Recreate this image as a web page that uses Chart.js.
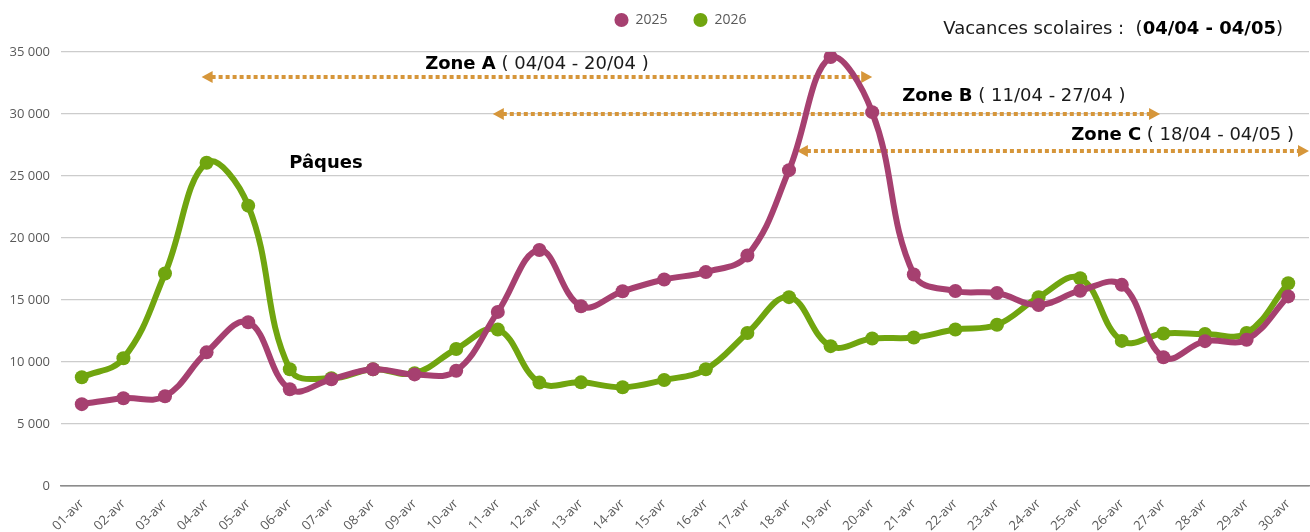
<!DOCTYPE html>
<html lang="fr">
<head>
<meta charset="utf-8">
<title>Ventes avril 2025 / 2026</title>
<script src="https://cdn.jsdelivr.net/npm/chart.js@4.4.1/dist/chart.umd.min.js"></script>
<style>
  html, body { margin: 0; padding: 0; background: #ffffff; overflow: hidden; }
  #cadre { position: relative; width: 1310px; height: 532px; }
</style>
</head>
<body>
<div id="cadre"><canvas id="graphique"></canvas></div>
<script>
const jours = ['01-avr', '02-avr', '03-avr', '04-avr', '05-avr', '06-avr', '07-avr', '08-avr', '09-avr', '10-avr',
               '11-avr', '12-avr', '13-avr', '14-avr', '15-avr', '16-avr', '17-avr', '18-avr', '19-avr', '20-avr',
               '21-avr', '22-avr', '23-avr', '24-avr', '25-avr', '26-avr', '27-avr', '28-avr', '29-avr', '30-avr'];

const ventes2025 = [6600, 7080, 7240, 10780, 13200, 7800, 8610, 9410, 9000, 9300,
                    14040, 19030, 14500, 15700, 16650, 17250, 18590, 25470, 34600, 30150,
                    17060, 15720, 15560, 14600, 15750, 16220, 10380, 11680, 11800, 15290];

const ventes2026 = [8770, 10300, 17140, 26070, 22610, 9410, 8690, 9410, 9100, 11050,
                    12620, 8340, 8360, 7960, 8550, 9410, 12340, 15230, 11280, 11900,
                    11970, 12620, 13000, 15230, 16760, 11700, 12300, 12260, 12340, 16350];

// annotations (zones de vacances), positions en index de jour / valeur
const zonesNoms = ['Zone A', 'Zone B', 'Zone C'];
const zonesDates = [' ( 04/04 - 20/04 )', ' ( 11/04 - 27/04 )', ' ( 18/04 - 04/05 )'];
const zonesDebut = [2.88, 9.88, 17.19];
const zonesFin = [19, 25.92, null];
const zonesNiveau = [33000, 30000, 27000];

const couleur2025 = '#a64070';
const couleur2026 = '#70a50f';
const couleurFleche = '#d6963a';
const police = '"Open Sans", "Noto Sans", sans-serif';
const policeTitre = '"DejaVu Sans", "Noto Sans", sans-serif';

function formatMilliers(v) {
    return String(v).replace(/\B(?=(\d{3})+(?!\d))/g, ' ');
}

// Dessin des flèches et textes
const annotations = {
    id: 'annotations',
    beforeDatasetsDraw(chart) {
        const ctx = chart.ctx;
        const x = chart.scales.x;
        const y = chart.scales.y;
        const area = chart.chartArea;
        const pas = x.getPixelForValue(1) - x.getPixelForValue(0);
        const x0 = x.getPixelForValue(0);

        ctx.save();
        zonesNoms.forEach((nom, i) => {
            const x1 = x0 + zonesDebut[i] * pas;
            const x2 = zonesFin[i] !== null ? x0 + zonesFin[i] * pas : area.right;
            const yy = Math.round(y.getPixelForValue(zonesNiveau[i]));

            ctx.strokeStyle = couleurFleche;
            ctx.fillStyle = couleurFleche;
            ctx.lineWidth = 4;
            ctx.setLineDash([4, 3]);
            ctx.beginPath();
            ctx.moveTo(x1 + 10, yy);
            ctx.lineTo(x2 - 10, yy);
            ctx.stroke();
            ctx.setLineDash([]);

            // pointes
            ctx.beginPath();
            ctx.moveTo(x1, yy);
            ctx.lineTo(x1 + 11, yy - 6);
            ctx.lineTo(x1 + 11, yy + 6);
            ctx.closePath();
            ctx.fill();
            ctx.beginPath();
            ctx.moveTo(x2, yy);
            ctx.lineTo(x2 - 11, yy - 6);
            ctx.lineTo(x2 - 11, yy + 6);
            ctx.closePath();
            ctx.fill();
        });
        ctx.restore();
    },
    afterDraw(chart) {
        const ctx = chart.ctx;
        const x = chart.scales.x;
        const y = chart.scales.y;
        const pas = x.getPixelForValue(1) - x.getPixelForValue(0);

        ctx.save();
        ctx.textBaseline = 'middle';

        // étiquettes des zones
        const etiquetteX = [10.94, 19.72, 29.14];
        const etiquetteAlign = ['center', 'left', 'right'];
        const etiquetteNiveau = [34000, 31450, 28300];
        zonesNoms.forEach((nom, i) => {
            ctx.font = 'bold 18px ' + policeTitre;
            const w1 = ctx.measureText(nom).width;
            ctx.font = '18px ' + policeTitre;
            const w2 = ctx.measureText(zonesDates[i]).width;
            const px = x.getPixelForValue(0) + etiquetteX[i] * pas;
            let gauche = px;
            if (etiquetteAlign[i] === 'center') gauche = px - (w1 + w2) / 2;
            if (etiquetteAlign[i] === 'right') gauche = px - (w1 + w2);
            const py = y.getPixelForValue(etiquetteNiveau[i]);
            ctx.textAlign = 'left';
            ctx.fillStyle = '#000000';
            ctx.font = 'bold 18px ' + policeTitre;
            ctx.fillText(nom, gauche, py);
            ctx.fillStyle = '#1a1a1a';
            ctx.font = '18px ' + policeTitre;
            ctx.fillText(zonesDates[i], gauche + w1, py);
        });

        // Pâques
        ctx.fillStyle = '#000000';
        ctx.font = 'bold 18px ' + policeTitre;
        ctx.textAlign = 'center';
        ctx.fillText('Pâques', x.getPixelForValue(0) + 5.87 * pas, y.getPixelForValue(26000));

        // Vacances scolaires
        const t1 = 'Vacances scolaires :  (';
        const t2 = '04/04 - 04/05';
        const t3 = ')';
        ctx.font = 'bold 18px ' + policeTitre;
        const wb = ctx.measureText(t2).width;
        ctx.font = '18px ' + policeTitre;
        const wa = ctx.measureText(t1).width;
        const wc = ctx.measureText(t3).width;
        const gx = 1283 - (wa + wb + wc);
        ctx.textAlign = 'left';
        ctx.fillStyle = '#1a1a1a';
        ctx.fillText(t1, gx, 29);
        ctx.font = 'bold 18px ' + policeTitre;
        ctx.fillStyle = '#000000';
        ctx.fillText(t2, gx + wa, 29);
        ctx.font = '18px ' + policeTitre;
        ctx.fillStyle = '#1a1a1a';
        ctx.fillText(t3, gx + wa + wb, 29);
        ctx.restore();
    }
};

// légende : hauteur fixe et petit décalage
const miseEnPage = {
    id: 'miseEnPage',
    beforeInit(chart) {
        const fitOrig = chart.legend.fit;
        chart.legend.fit = function () {
            fitOrig.bind(chart.legend)();
            this.height = 52;
        };
    },
    afterLayout(chart) {
        const lg = chart.legend;
        lg.left += 26;
        lg.right += 26;
        lg.top -= 13;
        lg.bottom -= 13;
    }
};

new Chart(document.getElementById('graphique'), {
    type: 'line',
    data: {
        labels: jours,
        datasets: [
            {
                label: '2025',
                data: ventes2025,
                borderColor: couleur2025,
                backgroundColor: couleur2025,
                pointBackgroundColor: couleur2025,
                borderWidth: 6,
                pointRadius: 7,
                pointBorderWidth: 0,
                tension: 0.4,
                fill: false
            },
            {
                label: '2026',
                data: ventes2026,
                borderColor: couleur2026,
                backgroundColor: couleur2026,
                pointBackgroundColor: couleur2026,
                borderWidth: 6,
                pointRadius: 7,
                pointBorderWidth: 0,
                tension: 0.4,
                fill: false
            }
        ]
    },
    options: {
        responsive: true,
        maintainAspectRatio: false,
        animation: false,
        layout: { autoPadding: false, padding: { left: 0, right: 1, top: 0, bottom: 0 } },
        plugins: {
            legend: {
                position: 'top',
                align: 'center',
                labels: {
                    usePointStyle: true,
                    pointStyle: 'circle',
                    boxWidth: 14,
                    boxHeight: 10,
                    padding: 26,
                    color: '#595959',
                    font: { family: police, size: 14 }
                }
            },
            tooltip: { enabled: false }
        },
        scales: {
            x: {
                offset: true,
                afterFit(s) {
                    s.paddingRight = 0;
                    s.paddingLeft = 0;
                    s.height = 46;
                },
                grid: { display: false },
                border: { display: true, color: '#8c8c8c', width: 1.5 },
                ticks: {
                    autoSkip: false,
                    minRotation: 45,
                    maxRotation: 45,
                    padding: 2,
                    color: '#595959',
                    font: { family: police, size: 13 }
                }
            },
            y: {
                min: 0,
                max: 35000,
                afterFit(s) { s.width = 61; },
                border: { display: false },
                grid: {
                    drawTicks: false,
                    color: (c) => c.tick && c.tick.value === 0 ? '#8c8c8c' : '#cccccc',
                    lineWidth: 1.2
                },
                ticks: {
                    stepSize: 5000,
                    padding: 11,
                    color: '#595959',
                    font: { family: police, size: 13 },
                    callback: (v) => formatMilliers(v)
                }
            }
        }
    },
    plugins: [annotations, miseEnPage]
});
</script>
</body>
</html>
